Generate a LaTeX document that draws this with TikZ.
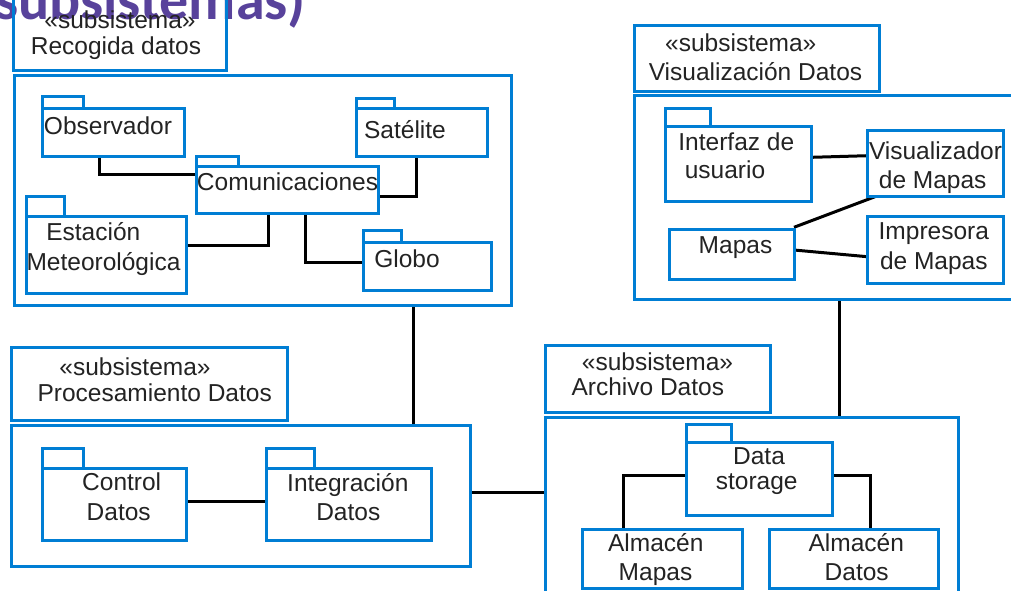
\documentclass[tikz,border=0pt]{standalone}
\usepackage{fontspec}
\setmainfont{Liberation Sans}
\newfontfamily\headfont{Carlito}
\usetikzlibrary{fit,calc}
\definecolor{pkgblue}{RGB}{0,126,212}
\definecolor{inkgray}{RGB}{35,35,35}
\definecolor{headpurple}{RGB}{88,66,155}
\pgfdeclarelayer{background}
\pgfsetlayers{background,main}

\begin{document}
\begin{tikzpicture}[x=1pt,y=-1pt,
  pkg/.style={draw=pkgblue, line width=3pt, inner sep=0pt, outer sep=0pt, rectangle},
  lbl/.style={font=\fontsize{24.5}{29}\selectfont, text=inkgray, inner sep=0pt, anchor=base},
  wire/.style={draw=black, line width=3pt},
  headtxt/.style={font=\headfont\bfseries\fontsize{58}{62}\selectfont, text=headpurple, inner sep=0pt, anchor=base east},
]
\useasboundingbox (0,0) rectangle (1011,590);

% heading, partly above the page
\node[headtxt] (head) at (306,19) {subsistemas)};

% ---------- subsystem: Recogida datos ----------
\node[pkg, fit={(13.5,-3) (226,70)}] (tabR) {};
\node[pkg, fit={(14,75) (511,305)}] (frameR) {};
\node[lbl] (tabR1) at (120,28.3) {«subsistema»};
\node[lbl] (tabR2) at (116,54.3) {Recogida datos};

\node[pkg, fit={(42.3,96) (83.3,108.3)}] (obsT) {};
\node[pkg, fit={(42.3,108.3) (184,156.7)}] (obs) {};
\node[lbl] (obsL) at (108,134) {Observador};

\node[pkg, fit={(356,98.3) (394.3,108.3)}] (satT) {};
\node[pkg, fit={(356,108.3) (487.3,156.7)}] (sat) {};
\node[lbl] (satL) at (405,138.3) {Satélite};

\node[pkg, fit={(196.7,156) (238.3,166)}] (comT) {};
\node[pkg, fit={(196.7,166) (378.3,213.3)}] (com) {};
\node[lbl] (comL) at (287.5,190) {Comunicaciones};

\node[pkg, fit={(26,196.7) (64.3,216.7)}] (estT) {};
\node[pkg, fit={(26,216.7) (186.7,293.3)}] (est) {};
\node[lbl] (estL1) at (93.3,240) {Estación};
\node[lbl] (estL2) at (103.5,270) {Meteorológica};

\node[pkg, fit={(363.3,230.7) (401,242.7)}] (gloT) {};
\node[pkg, fit={(363.3,242.7) (491.7,290)}] (glo) {};
\node[lbl] (gloL) at (407,267) {Globo};

% ---------- subsystem: Procesamiento Datos ----------
\node[pkg, fit={(11.7,347.3) (287.3,420)}] (tabP) {};
\node[pkg, fit={(11.7,425) (470,566)}] (frameP) {};
\node[lbl] (tabP1) at (135,375) {«subsistema»};
\node[lbl] (tabP2) at (154.7,401.7) {Procesamiento Datos};

\node[pkg, fit={(42.3,448.3) (83.3,468.3)}] (ctlT) {};
\node[pkg, fit={(42.3,468.3) (186.7,540.7)}] (ctl) {};
\node[lbl] (ctlL1) at (121.7,490) {Control};
\node[lbl] (ctlL2) at (118.7,520.7) {Datos};

\node[pkg, fit={(266.7,448.3) (314.3,468.3)}] (intT) {};
\node[pkg, fit={(266.7,468.3) (431.7,540.7)}] (int) {};
\node[lbl] (intL1) at (347.8,491) {Integración};
\node[lbl] (intL2) at (348.3,520.7) {Datos};

% ---------- subsystem: Archivo Datos ----------
\node[pkg, fit={(545,345) (770,412.3)}] (tabA) {};
\node[pkg, fit={(545,417.3) (958.5,620)}] (frameA) {};
\node[lbl] (tabA1) at (657.5,370) {«subsistema»};
\node[lbl] (tabA2) at (647.8,395) {Archivo Datos};

\node[pkg, fit={(686,424) (731.7,442.7)}] (dsT) {};
\node[pkg, fit={(686,442.7) (832.3,515.7)}] (ds) {};
\node[lbl] (dsL1) at (759,464) {Data};
\node[lbl] (dsL2) at (756.7,489.3) {storage};

\node[pkg, fit={(582.7,529) (742.3,588)}] (am) {};
\node[lbl] (amL1) at (655.8,551.7) {Almacén};
\node[lbl] (amL2) at (655.5,580) {Mapas};

\node[pkg, fit={(769,529) (938.3,588)}] (ad) {};
\node[lbl] (adL1) at (856.3,551.7) {Almacén};
\node[lbl] (adL2) at (856.7,580) {Datos};

% ---------- subsystem: Visualización Datos ----------
\node[pkg, fit={(634,25) (879.3,91.7)}] (tabV) {};
\node[pkg, fit={(634,95) (1030,299.3)}] (frameV) {};
\node[lbl] (tabV1) at (740.8,51.7) {«subsistema»};
\node[lbl] (tabV2) at (755.5,80) {Visualización Datos};

\node[pkg, fit={(665,108.3) (710.7,126.7)}] (uiT) {};
\node[pkg, fit={(665,126.7) (811.7,201.7)}] (ui) {};
\node[lbl] (uiL1) at (736.3,150) {Interfaz de};
\node[lbl] (uiL2) at (725,178.3) {usuario};

\node[pkg, fit={(867.3,130) (1003.3,196.7)}] (vm) {};
\node[lbl] (vmL1) at (935.5,159.3) {Visualizador};
\node[lbl] (vmL2) at (932.7,188.3) {de Mapas};

\node[pkg, fit={(669.3,229.3) (794,279.3)}] (map) {};
\node[lbl] (mapL) at (735.5,253.3) {Mapas};

\node[pkg, fit={(867.3,216.7) (1003.3,283.3)}] (imp) {};
\node[lbl] (impL1) at (933.8,239.3) {Impresora};
\node[lbl] (impL2) at (933.8,269.3) {de Mapas};

% ---------- dependencies ----------
\begin{pgfonlayer}{background}
  % inside Recogida datos
  \draw[wire] ([xshift=56.7pt]obs.south west) |- ([yshift=-8pt]com.north west);
  \draw[wire] ([xshift=60pt]sat.south west) |- ([yshift=-30pt]com.north east);
  \draw[wire] ([yshift=-29pt]est.north east) -| ([xshift=71.6pt]com.south west);
  \draw[wire] ([xshift=109pt]com.south west) |- ([yshift=-20pt]glo.north west);
  % between subsystems
  \draw[wire] ([xshift=399pt]frameR.south west) coordinate (rp) -- (rp |- frameP.north);
  \draw[wire] ([yshift=-67.3pt]frameP.north east) coordinate (pa) -- (pa -| frameA.west);
  \draw[wire] ([xshift=205.5pt]frameV.south west) coordinate (va) -- (va |- frameA.north);
  % inside Procesamiento Datos
  \draw[wire] ([yshift=-33.4pt]ctl.north east) coordinate (ci) -- (ci -| int.west);
  % inside Archivo Datos
  \draw[wire] ([yshift=-33pt]ds.north west) -| ([xshift=40.6pt]am.north west);
  \draw[wire] ([yshift=-33pt]ds.north east) -| ([xshift=101.7pt]ad.north west);
  % inside Visualización Datos
  \draw[wire] ([yshift=-30.6pt]ui.north east) -- ([yshift=-25.7pt]vm.north west);
  \draw[wire] ([yshift=2pt]map.north east) -- ([xshift=7.7pt]vm.south west);
  \draw[wire] ([yshift=-20.7pt]map.north east) -- ([yshift=-40pt]imp.north west);
\end{pgfonlayer}
\end{tikzpicture}
\end{document}
